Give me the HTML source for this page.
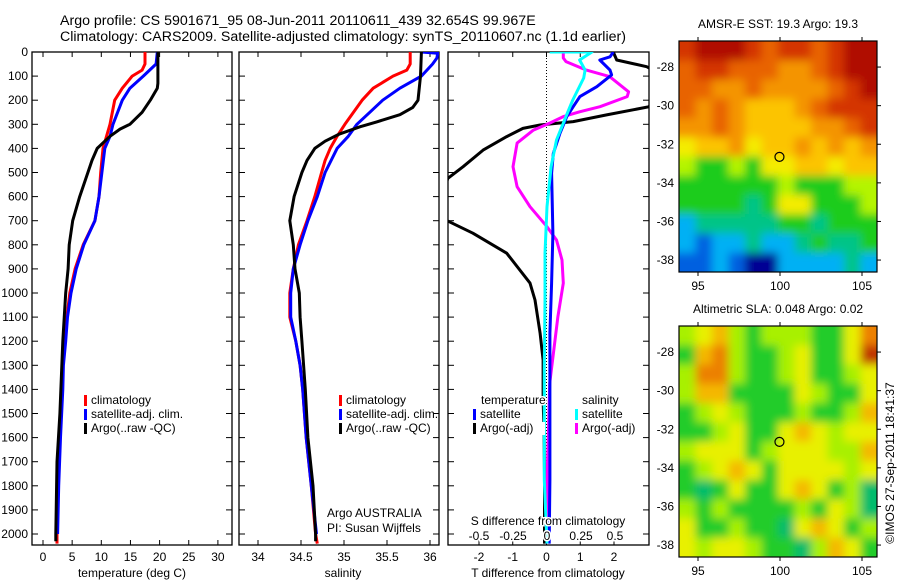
<!DOCTYPE html>
<html><head><meta charset="utf-8"><style>
html,body{margin:0;padding:0;background:#fff;width:900px;height:580px;overflow:hidden}
svg{display:block;font-family:"Liberation Sans",sans-serif}
text{fill:#000}
</style></head><body>
<svg id="c" width="900" height="580" viewBox="0 0 900 580" xmlns="http://www.w3.org/2000/svg">
<defs>
<clipPath id="cp1"><rect x="32" y="52" width="200" height="493"/></clipPath>
<clipPath id="cp2"><rect x="239" y="52" width="200" height="493"/></clipPath>
<clipPath id="cp3"><rect x="448" y="52" width="201" height="493"/></clipPath>
<clipPath id="cpm1"><rect x="679" y="41" width="198" height="231"/></clipPath>
<clipPath id="cpm2"><rect x="679" y="326" width="198" height="231"/></clipPath>
<filter id="bl" filterUnits="userSpaceOnUse" x="600" y="0" width="300" height="580"><feGaussianBlur stdDeviation="4.5"/></filter>
</defs>
<text x="60" y="25" font-size="14.2">Argo profile: CS 5901671_95 08-Jun-2011 20110611_439 32.654S 99.967E</text>
<text x="60" y="41" font-size="14.2">Climatology: CARS2009. Satellite-adjusted climatology: synTS_20110607.nc (1.1d earlier)</text>
</svg>
<script>
// ---- data ----
var depthTicks=[0,100,200,300,400,500,600,700,800,900,1000,1100,1200,1300,1400,1500,1600,1700,1800,1900,2000];
var tempTicks=[0,5,10,15,20,25,30];
var salTicks=[34,34.5,35,35.5,36];
var tdTicks=[-2,-1,0,1,2];
var sdTicks=[-0.5,-0.25,0,0.25,0.5];
var sdTickLabels=["-0.5","-0.25","0","0.25","0.5"];

var tClimD=[0,50,75,100,150,200,300,400,500,600,700,800,900,1000,1100,1200,1300,1400,1600,1800,2000,2040];
var tClimV=[17.5,17.5,17,15.3,13.6,12.3,11.5,10.3,9.9,9.6,8.9,6.9,5.5,4.6,4.1,3.8,3.4,3.3,2.9,2.6,2.4,2.4];
var tSatD=[0,50,100,150,200,300,350,400,500,600,700,800,900,1000,1100,1200,1300,1400,1600,1800,2000];
var tSatV=[19.6,19.4,17.2,14.9,13.6,12,11.5,10.6,10.1,9.6,8.9,7,5.7,4.8,4.2,3.9,3.5,3.4,3.0,2.7,2.5];
var tArgD=[0,130,150,200,250,300,320,350,400,450,500,600,700,800,900,1000,1200,1500,1700,2000,2030];
var tArgV=[19.7,19.7,19.6,18.4,17,14.9,13.2,11.5,9.3,8.4,7.7,6.3,5.1,4.5,4.3,3.9,3.4,2.9,2.4,2.2,2.2];

var sClimD=[0,50,75,100,150,200,300,350,400,450,500,600,700,800,900,1000,1100,1200,1300,1400,1600,1800,2000,2040];
var sClimV=[35.77,35.77,35.73,35.57,35.34,35.21,35.01,34.92,34.84,34.78,34.74,34.66,34.57,34.47,34.41,34.37,34.37,34.44,34.49,34.52,34.56,34.62,34.67,34.69];
var sSatD=[0,5,25,50,100,150,200,250,300,350,400,500,600,700,800,900,1000,1100,1200,1300,1400,1600,1800,2000];
var sSatV=[35.9,36.09,36.08,36.03,35.9,35.65,35.45,35.3,35.15,35.05,34.92,34.78,34.69,34.58,34.49,34.41,34.38,34.38,34.44,34.49,34.52,34.56,34.62,34.68];
var sArgD=[0,100,200,230,260,290,310,340,370,400,450,500,600,700,800,900,1000,1100,1200,1400,1600,1800,2000,2030];
var sArgV=[35.9,35.89,35.86,35.8,35.65,35.38,35.19,34.95,34.78,34.66,34.57,34.51,34.42,34.37,34.41,34.43,34.48,34.49,34.51,34.55,34.58,34.64,34.67,34.67];

var dtArgD=[0,33,61,100,227,261,289,303,317,351,407,476,524,676,752,835,959,1029,1167,1278,1444,1582,1763,2040];
var dtArgV=[1.98,2.08,2.97,3.5,3.04,1.78,0.79,-0.19,-0.7,-1.18,-1.88,-2.47,-2.92,-3.3,-2.18,-1.18,-0.49,-0.34,-0.19,-0.1,-0.1,-0.07,-0.06,-0.06];
var dtSatD=[0,20,33,75,95,144,185,227,268,337,421,503,752,959,1167,1582,1776,2040];
var dtSatV=[1.98,1.88,1.58,1.88,1.93,1.49,0.99,0.79,0.6,0.4,0.2,0.15,0.19,0.15,0.1,0.1,0.1,0.08];
var dsSatD=[0,0,33,75,108,199,253,365,476,642,835,1029,1306,1582,1776,2040];
var dsSatV=[0.02,0.33,0.24,0.28,0.27,0.19,0.15,0.07,0.03,0.0,-0.015,-0.015,-0.02,-0.02,-0.02,0.0];
var dsArgD=[0,25,40,75,102,165,185,227,248,268,295,324,378,476,559,642,725,780,863,959,1098,1237,1375,1582,1776,2040];
var dsArgV=[0.12,0.12,0.14,0.29,0.46,0.6,0.59,0.39,0.24,0.12,0.02,-0.1,-0.22,-0.25,-0.22,-0.125,0,0.07,0.11,0.12,0.08,0.05,0.02,0.01,0.0,0.0];

var lonTicks=[95,100,105];
var latTicks=[-28,-30,-32,-34,-36,-38];
var argoLon=99.967, argoLat=-32.654;
var sstRows=["rRRRrOrrOrRR","OrrOOOooOrRR","OOooOooooOrR","OoOoyyyoOrrr","ooOoyyyyooOr","YyyoYyyoyoyo","gGGgGYYyyYyy","GGGGGGgGGGgg","GGGGtGYYGGGg","ctttttGGtGGG","cbcctcctGttG","bbcbBBcccctc"];
var slaRows=["gYogGgggGGYO","GoOgGGgYGGYR","gOOgGGgYGGgY","gooGGGGYgGGY","GgYgGGGgGGgo","GGgYGGYoYgYY","gYYYGgYYYggo","GgYoYGYYYYgY","GtGYGGYoYGgt","gGgGGGGgGYgt","YGGgGGtYoYGg","YgYYgGGtgoYG"];

// ---- helpers ----
var NS="http://www.w3.org/2000/svg", svg=document.getElementById('c');
function mk(tag,attrs,parent){var e=document.createElementNS(NS,tag);for(var k in attrs)e.setAttribute(k,attrs[k]);(parent||svg).appendChild(e);return e;}
function yD(d){return 52+d*0.241;}
function xT(t){return 43+t*5.83;}
function xS(s){return 258+(s-34)*86;}
function xDT(t){return 546.5+t*33.75;}
function xDS(s){return 547+s*136;}
var TOP=52,BOT=545;

function panelBox(x0,x1,name){
  var r=mk('rect',{x:x0,y:TOP,width:x1-x0,height:BOT-TOP,fill:'none',stroke:'#000','stroke-width':1.3});
  
  
  depthTicks.forEach(function(d){
    var y=yD(d);
    var t1=mk('line',{x1:x0,x2:x0+6,y1:y,y2:y,stroke:'#000'});
    
    
    var t2=mk('line',{x1:x1-6,x2:x1,y1:y,y2:y,stroke:'#000'});
    
    
  });
}
function xTicks(vals,labels,fx,x0,x1,ly,name){
  vals.forEach(function(v,i){
    var x=fx(v);
    var a=mk('line',{x1:x,x2:x,y1:TOP,y2:TOP+5,stroke:'#000'});
    
    
    var b=mk('line',{x1:x,x2:x,y1:BOT-5,y2:BOT,stroke:'#000'});
    
    
    if(ly){var t=mk('text',{x:x,y:ly,'font-size':12,'text-anchor':'middle'});t.textContent=labels?labels[i]:String(v);
    
    }
  });
}
function line(D,V,fx,color,clip,name,w){
  var p=D.map(function(d,i){return (i?'L':'M')+fx(V[i]).toFixed(1)+','+yD(d).toFixed(1);}).join('');
  var e=mk('path',{d:p,fill:'none',stroke:color,'stroke-width':w||3,'stroke-linejoin':'round','clip-path':'url(#'+clip+')'});
  
  
}
function txt(x,y,s,name,anchor,size){var t=mk('text',{x:x,y:y,'font-size':size||12,'text-anchor':anchor||'start'});t.textContent=s;
  
  return t;}
function legend(x,y,color,label,name,bg){
  if(bg){var r=mk('rect',{x:x+6,y:y-10,width:label.length*6.6,height:13,fill:'#fff'});
    
    }
  var m=mk('rect',{x:x,y:y-9,width:3,height:11,fill:color});
  
  
  txt(x+7,y,label,name);
}

// ---- panel 1: temperature ----
panelBox(32,232,'temperature-panel');
xTicks(tempTicks,null,xT,32,232,561,'temperature-axis');
depthTicks.forEach(function(d){txt(28,yD(d)+4,String(d),'depth-tick-label','end');});
line(tClimD,tClimV,xT,'#ff0000','cp1','temperature-climatology-line');
line(tSatD,tSatV,xT,'#0000ff','cp1','temperature-satellite-line');
line(tArgD,tArgV,xT,'#000000','cp1','temperature-argo-line');
txt(132,577,'temperature (deg C)','temperature-axis-title','middle');
legend(84,404,'#ff0000','climatology','temp-legend-climatology');
legend(84,418,'#0000ff','satellite-adj. clim.','temp-legend-satellite');
legend(84,432,'#000000','Argo(..raw -QC)','temp-legend-argo');

// ---- panel 2: salinity ----
panelBox(239,439,'salinity-panel');
xTicks(salTicks,null,xS,239,439,561,'salinity-axis');
line(sClimD,sClimV,xS,'#ff0000','cp2','salinity-climatology-line');
line(sSatD,sSatV,xS,'#0000ff','cp2','salinity-satellite-line');
line(sArgD,sArgV,xS,'#000000','cp2','salinity-argo-line');
txt(343,577,'salinity','salinity-axis-title','middle');
legend(339,404,'#ff0000','climatology','sal-legend-climatology');
legend(339,418,'#0000ff','satellite-adj. clim.','sal-legend-satellite');
legend(339,432,'#000000','Argo(..raw -QC)','sal-legend-argo');
txt(327,517,'Argo AUSTRALIA','argo-program-label');
txt(327,532,'PI: Susan Wijffels','pi-label');

// ---- panel 3: differences ----
panelBox(448,649,'difference-panel');
xTicks(tdTicks,null,xDT,448,649,561,'t-diff-axis');
var zl=mk('line',{x1:xDT(0),x2:xDT(0),y1:TOP,y2:BOT,stroke:'#000','stroke-dasharray':'1,2','stroke-width':1});


line(dtArgD,dtArgV,xDT,'#000000','cp3','t-diff-argo-line');
line(dsArgD,dsArgV,xDS,'#ff00ff','cp3','s-diff-argo-line');
line(dtSatD,dtSatV,xDT,'#0000ff','cp3','t-diff-satellite-line');
line(dsSatD,dsSatV,xDS,'#00ffff','cp3','s-diff-satellite-line');
txt(481,404,'temperature','legend-temperature-heading',null,12).setAttribute('style','paint-order:stroke;stroke:#fff;stroke-width:3');
txt(582,404,'salinity','legend-salinity-heading');
legend(473,418,'#0000ff','satellite','t-legend-satellite',true);
legend(473,432,'#000000','Argo(-adj)','t-legend-argo',true);
legend(575,418,'#00ffff','satellite','s-legend-satellite',true);
legend(575,432,'#ff00ff','Argo(-adj)','s-legend-argo',true);
txt(548,525,'S difference from climatology','s-diff-axis-title','middle').setAttribute('style','paint-order:stroke;stroke:#fff;stroke-width:3');
sdTicks.forEach(function(v,i){var t=txt(xDS(v),540,sdTickLabels[i],'s-diff-tick-label','middle');t.setAttribute('style','paint-order:stroke;stroke:#fff;stroke-width:3');});
txt(548,577,'T difference from climatology','t-diff-axis-title','middle');

// ---- maps ----
var pal={R:'#b00c00',r:'#d43400',O:'#e86400',o:'#f49400',y:'#fcc400',Y:'#f4ec00',g:'#b4f400',G:'#1ccc1c',t:'#00c488',c:'#00b0f4',b:'#0060e0',B:'#000094'};
var palS={R:'#c03400',O:'#ec8000',o:'#f4b800',Y:'#e8f000',g:'#a8f000',G:'#20cc2c',t:'#00bc6c'};
function xLon(lon){return 698+(lon-95)*16.4;}
function yLat(lat,y0){return y0+(-lat-26.65)*19.3;}
function map(rows,p,y0,clip,name,title,circleName){
  var g=mk('g',{'clip-path':'url(#'+clip+')'});
  
  
  var inner=mk('g',{filter:'url(#bl)'},g);
  var cw=198/12,ch=231/12;
  rows.forEach(function(row,r){
    for(var c=0;c<row.length;c++){
      var cell=mk('rect',{x:679+c*cw-(c==0?12:0),y:y0+r*ch-(r==0?12:0),width:cw+0.6+(c==0||c==row.length-1?12:0),height:ch+0.6+(r==0||r==rows.length-1?12:0),fill:p[row[c]]},inner);
      
      
    }
  });
  var b=mk('rect',{x:679,y:y0,width:198,height:231,fill:'none',stroke:'#000','stroke-width':1.2});
  
  
  lonTicks.forEach(function(l){var x=xLon(l);
    var a=mk('line',{x1:x,x2:x,y1:y0-4,y2:y0,stroke:'#000'});
    
    
    var a2=mk('line',{x1:x,x2:x,y1:y0+231,y2:y0+235,stroke:'#000'});
    
    
    txt(x,y0+249,String(l),'lon-tick-label','middle');});
  latTicks.forEach(function(l){var y=yLat(l,y0);
    var a=mk('line',{x1:877,x2:881,y1:y,y2:y,stroke:'#000'});
    
    
    txt(674,y+4,String(l),'lat-tick-label','end');});
  var ci=mk('circle',{cx:xLon(argoLon),cy:yLat(argoLat,y0),r:4.5,fill:'none',stroke:'#000','stroke-width':1.2});
  
  
  txt(778,y0-13,title,name+'-title','middle');
}
map(sstRows,pal,41,'cpm1','sst-map','AMSR-E SST: 19.3 Argo: 19.3','sst-argo-location');
map(slaRows,palS,326,'cpm2','sla-map','Altimetric SLA: 0.048 Argo: 0.02','sla-argo-location');
var cr=txt(0,0,'\u00A9IMOS 27-Sep-2011 18:41:37','imos-credit','middle');
cr.setAttribute('transform','translate(894,463) rotate(-90)');
</script>
</body></html>
